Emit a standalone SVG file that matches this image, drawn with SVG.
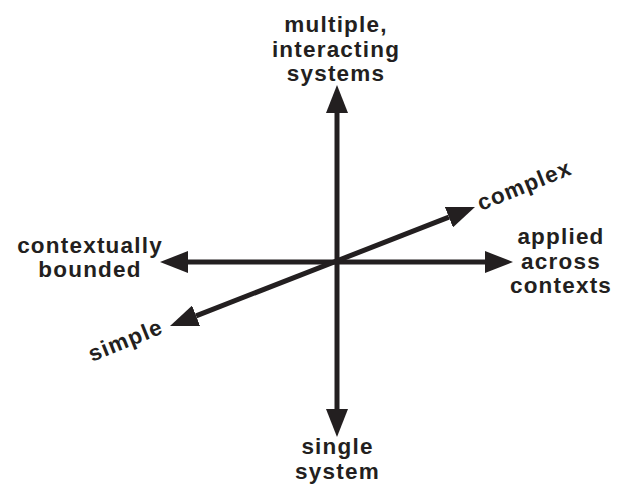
<svg xmlns="http://www.w3.org/2000/svg" width="623" height="485" viewBox="0 0 623 485">
<style>
.lbl{font-family:"Liberation Sans",Arial,sans-serif;font-weight:bold;font-size:22.5px;letter-spacing:1.2px;fill:#231f20;text-anchor:middle}
.ax{stroke:#231f20;stroke-width:5;fill:none}
</style>
<defs>
<marker id="ah" markerUnits="userSpaceOnUse" markerWidth="28" markerHeight="22" refX="0" refY="11" orient="auto-start-reverse">
<path d="M0,0 L28,11 L0,22 z" fill="#231f20"/>
</marker>
</defs>
<rect width="623" height="485" fill="#fff"/>
<g id="connectors">
<line class="ax" x1="337" y1="409" x2="337" y2="113" marker-start="url(#ah)" marker-end="url(#ah)"/>
<line class="ax" x1="188" y1="262" x2="485" y2="262" marker-start="url(#ah)" marker-end="url(#ah)"/>
<line class="ax" x1="196.1" y1="315.8" x2="448.9" y2="217.2" marker-start="url(#ah)" marker-end="url(#ah)"/>
</g>
<g id="top"><text class="lbl" x="336" y="31.5">multiple,</text><text class="lbl" x="336" y="56.5">interacting</text><text class="lbl" x="336" y="81">systems</text></g>
<g id="bottom"><text class="lbl" x="337.5" y="454">single</text><text class="lbl" x="337.5" y="479">system</text></g>
<g id="left"><text class="lbl" x="90" y="253">contextually</text><text class="lbl" x="90" y="277">bounded</text></g>
<g id="right"><text class="lbl" x="561" y="244">applied</text><text class="lbl" x="561" y="269">across</text><text class="lbl" x="561" y="293">contexts</text></g>
<g id="complex"><text class="lbl" style="text-anchor:start" transform="translate(481,211) rotate(-22)">complex</text></g>
<g id="simple"><text class="lbl" style="text-anchor:start" transform="translate(92,362) rotate(-22)">simple</text></g>
</svg>
